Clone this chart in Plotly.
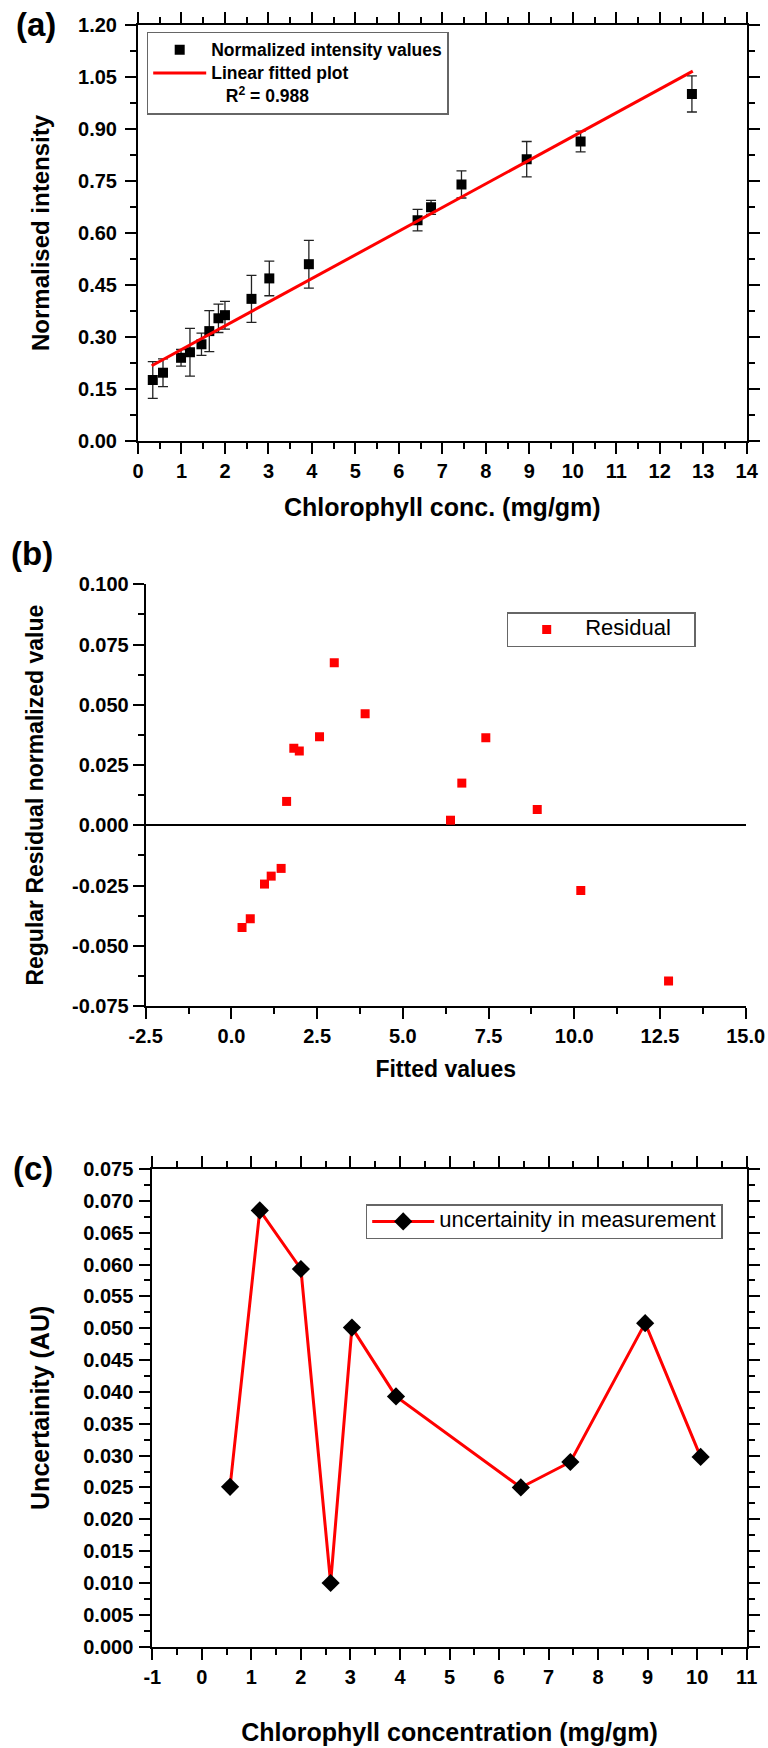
import plotly.graph_objects as go

# ---------------- data ----------------
# (a) normalized intensity vs chlorophyll concentration
conc_a = [0.34, 0.575, 0.99, 1.195, 1.46, 1.64, 1.85, 2.0, 2.61, 3.02, 3.93,
          6.43, 6.74, 7.44, 8.94, 10.18, 12.74]
intensity_a = [0.176, 0.197, 0.240, 0.256, 0.279, 0.317, 0.354, 0.363, 0.410,
               0.469, 0.510, 0.637, 0.674, 0.740, 0.813, 0.864, 1.001]
err_a = [0.053, 0.040, 0.024, 0.069, 0.032, 0.059, 0.041, 0.040, 0.068,
         0.050, 0.069, 0.031, 0.020, 0.039, 0.051, 0.030, 0.052]
fit_x = [0.315, 12.76]
fit_y = [0.217, 1.067]

# (b) residuals
fitted_b = [0.31, 0.55, 0.965, 1.16, 1.45, 1.61, 1.82, 1.98, 2.57, 3.0, 3.9,
            6.39, 6.72, 7.42, 8.92, 10.19, 12.75]
resid_b = [-0.0424, -0.0388, -0.0244, -0.0211, -0.0179, 0.0099, 0.0320, 0.0308,
           0.0367, 0.0674, 0.0463, 0.0021, 0.0175, 0.0363, 0.0065, -0.0271, -0.0646]
b_xticks = [-2.5, 0, 2.5, 5, 7.5, 10, 12.5, 15]
b_xlabels = ["-2.5", "0.0", "2.5", "5.0", "7.5", "10.0", "12.5", "15.0"]
b_yticks = [-0.075, -0.05, -0.025, 0, 0.025, 0.05, 0.075, 0.1]
b_ylabels = ["-0.075", "-0.050", "-0.025", "0.000", "0.025", "0.050", "0.075", "0.100"]

# (c) uncertainty
conc_c = [0.57, 1.17, 2.0, 2.6, 3.03, 3.92, 6.44, 7.44, 8.95, 10.07]
unc_c = [0.0251, 0.0685, 0.0593, 0.0100, 0.0501, 0.0393, 0.0250, 0.0290, 0.0508, 0.0298]
c_xticks = [-1, 0, 1, 2, 3, 4, 5, 6, 7, 8, 9, 10, 11]
c_xlabels = ["-1", "0", "1", "2", "3", "4", "5", "6", "7", "8", "9", "10", "11"]

FONT = "Liberation Sans, Arial, sans-serif"
W, H = 768, 1748


def big(text, size):
    return '<span style="font-size:%spx">%s</span>' % (size, text)


fig = go.Figure()

fig.add_trace(go.Scatter(
    x=conc_a, y=intensity_a, mode="markers",
    name=big("Normalized intensity values", 17.5),
    marker=dict(symbol="square", size=10, color="black"),
    error_y=dict(type="data", array=err_a, visible=True, color="#222222",
                 thickness=1.3, width=5),
    xaxis="x", yaxis="y", legend="legend"))
fig.add_trace(go.Scatter(
    x=fit_x, y=fit_y, mode="lines", name=big("Linear fitted plot", 17.5),
    line=dict(color="#ff0000", width=3), xaxis="x", yaxis="y", legend="legend"))
fig.add_trace(go.Scatter(
    x=[None], y=[None], mode="markers",
    name=big("&nbsp;&nbsp;&nbsp;R<sup>2</sup> = 0.988", 17.5),
    marker=dict(size=1, color="rgba(0,0,0,0)"), xaxis="x", yaxis="y", legend="legend"))

fig.add_trace(go.Scatter(
    x=fitted_b, y=resid_b, mode="markers", name=big("Residual&nbsp;&nbsp;&nbsp;", 22),
    marker=dict(symbol="square", size=9, color="#ff0000"),
    xaxis="x2", yaxis="y2", legend="legend2"))

fig.add_trace(go.Scatter(
    x=conc_c, y=unc_c, mode="lines+markers", name=big("uncertainity in measurement", 22),
    line=dict(color="#ff0000", width=3),
    marker=dict(symbol="diamond", size=14, color="black"),
    xaxis="x3", yaxis="y3", legend="legend3"))


def dom(x0, x1):
    return [x0 / W, x1 / W]


def vdom(top, bottom):
    return [1 - bottom / H, 1 - top / H]


tickfont = dict(family=FONT, size=20, color="black", weight="bold")


def tfont(size):
    return dict(family=FONT, size=size, color="black", weight="bold")


common = dict(showline=True, linecolor="black", linewidth=2, showgrid=False,
              ticks="outside", tickcolor="black", tickwidth=2,
              ticklen=11, tickfont=tickfont)


def minor(d, ticks="outside"):
    return dict(dtick=d, ticks=ticks, ticklen=6, tickwidth=2, tickcolor="black")


fig.update_layout(
    width=W, height=H, paper_bgcolor="white", plot_bgcolor="white",
    margin=dict(l=0, r=0, t=0, b=0, autoexpand=False),
    showlegend=True,
    font=dict(family=FONT, color="black"),
    # ---- (a) ----
    xaxis=dict(domain=dom(138, 746.7), anchor="y", range=[0, 14], dtick=1, tick0=0,
               mirror="allticks", zeroline=False, minor=minor(0.5),
               title=dict(text="Chlorophyll conc. (mg/gm)", font=tfont(25), standoff=17),
               **common),
    yaxis=dict(domain=vdom(25, 441), anchor="x", range=[0, 1.2], dtick=0.15, tick0=0,
               tickformat=".2f", mirror="allticks", zeroline=False, minor=minor(0.075),
               ticklabelstandoff=4,
               title=dict(text="Normalised intensity", font=tfont(24), standoff=22),
               **common),
    # ---- (b) ----
    xaxis2=dict(domain=dom(145.7, 745.7), anchor="y2", range=[-2.5, 15],
                tickmode="array", tickvals=b_xticks, ticktext=b_xlabels,
                zeroline=False, minor=minor(1.25),
                title=dict(text="Fitted values", font=tfont(23), standoff=15),
                **common),
    yaxis2=dict(domain=vdom(584.3, 1006), anchor="x2", range=[-0.075, 0.1],
                tickmode="array", tickvals=b_yticks, ticktext=b_ylabels,
                minor=minor(0.0125),
                title=dict(text="Regular Residual normalized value", font=tfont(23),
                           standoff=22),
                zeroline=True, zerolinecolor="black", zerolinewidth=2,
                **common),
    xaxis4=dict(domain=dom(145.7, 745.7), anchor="y2", overlaying="x2", side="top",
                range=[-2.5, 15], tickmode="array", tickvals=b_xticks,
                showticklabels=False,
                showline=True, linecolor="black", linewidth=2, showgrid=False,
                zeroline=False, ticks="inside", tickcolor="black", tickwidth=2, ticklen=11,
                minor=minor(1.25, "inside")),
    yaxis4=dict(domain=vdom(584.3, 1006), anchor="x2", overlaying="y2", side="right",
                range=[-0.075, 0.1], tickmode="array", tickvals=b_yticks,
                showticklabels=False,
                showline=True, linecolor="black", linewidth=2, showgrid=False,
                zeroline=False, ticks="inside", tickcolor="black", tickwidth=2, ticklen=11,
                minor=minor(0.0125, "inside")),
    # ---- (c) ----
    xaxis3=dict(domain=dom(152.3, 746.7), anchor="y3", range=[-1, 11],
                tickmode="array", tickvals=c_xticks, ticktext=c_xlabels,
                mirror="allticks", zeroline=False, minor=minor(0.5),
                title=dict(text="Chlorophyll concentration (mg/gm)", font=tfont(25),
                           standoff=37),
                **common),
    yaxis3=dict(domain=vdom(1169, 1646.7), anchor="x3", range=[0, 0.075], dtick=0.005,
                tick0=0, tickformat=".3f", mirror="allticks", zeroline=False,
                minor=minor(0.0025), ticklabelstandoff=2,
                title=dict(text="Uncertainity (AU)", font=tfont(25), standoff=26),
                **common),
    legend=dict(x=146.7 / W, y=1 - 31.7 / H, xanchor="left", yanchor="top",
                bgcolor="white", bordercolor="#666666", borderwidth=1.5,
                font=dict(family=FONT, size=15.5, color="black", weight="bold"),
                itemwidth=53, tracegroupgap=0),
    legend2=dict(x=506.7 / W, y=1 - 612.3 / H, xanchor="left", yanchor="top",
                 bgcolor="white", bordercolor="#666666", borderwidth=1.5,
                 font=dict(family=FONT, size=14, color="black"),
                 itemwidth=67),
    legend3=dict(x=365.7 / W, y=1 - 1204.3 / H, xanchor="left", yanchor="top",
                 bgcolor="white", bordercolor="#666666", borderwidth=1.5,
                 font=dict(family=FONT, size=14, color="black"),
                 itemwidth=62),
)

# panel labels
for txt, cx, cy in [("(a)", 36, 25), ("(b)", 32, 553), ("(c)", 33, 1168)]:
    fig.add_annotation(text=txt, x=cx / W, y=1 - cy / H, xref="paper", yref="paper",
                       xanchor="center", yanchor="middle", showarrow=False,
                       font=dict(family=FONT, size=33, color="black", weight="bold"))

fig.write_html("out.html", config={"displayModeBar": False},
               post_script="document.body.style.margin='0';")
